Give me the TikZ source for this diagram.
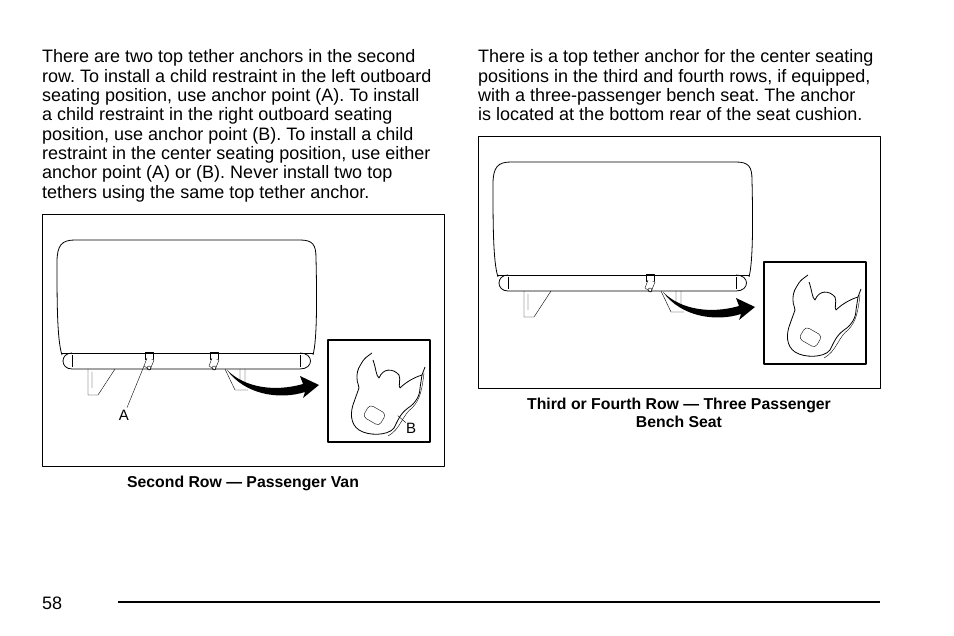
\documentclass[tikz,border=0pt]{standalone}
\usepackage{fontspec}
\setmainfont{Liberation Sans}
\frenchspacing
\begin{document}
\begin{tikzpicture}[x=1pt,y=-1pt,line join=round]
\tikzstyle{body}=[anchor=base west,inner sep=0pt,font=\fontsize{18}{20}\selectfont]
\tikzstyle{capt}=[anchor=base,inner sep=0pt,font=\fontsize{15.8}{18}\selectfont\bfseries]
\tikzstyle{lab}=[inner sep=0pt,font=\fontsize{15}{17}\selectfont]
\tikzstyle{frame}=[draw,line width=1pt]
\useasboundingbox (0,0) rectangle (954,636);
% left column text
\foreach \t [count=\i] in {There are two top tether anchors in the second,
  row. To install a child restraint in the left outboard,
  seating position{,} use anchor point (A). To install,
  a child restraint in the right outboard seating,
  position{,} use anchor point (B). To install a child,
  restraint in the center seating position{,} use either,
  anchor point (A) or (B). Never install two top,
  tethers using the same top tether anchor.}
  \node[body] (l\i) at (42,{63+19.3*(\i-1)}) {\t};
% right column text
\foreach \t [count=\i] in {There is a top tether anchor for the center seating,
  positions in the third and fourth rows{,} if equipped{,},
  with a three-passenger bench seat. The anchor,
  is located at the bottom rear of the seat cushion.}
  \node[body] (r\i) at (478,{63+19.3*(\i-1)}) {\t};
% seat picture (shifted copy for both frames)
\newcommand{\seatpic}[2]{%
\begin{scope}[shift={(#1,#2)}]
\draw[thick] (62,355) .. controls (57,340) and (57,300) .. (57,262)
  .. controls (57,245) and (62,240) .. (75,240) -- (300,240)
  .. controls (313,240) and (316,245) .. (316,258) .. controls (317,300) and (317,340) .. (313,355);
\draw (62,353) -- (313,353);
\draw[thick] (72,353) .. controls (60,353) and (60,369) .. (72,369) -- (300,369)
  .. controls (314,369) and (314,353) .. (300,353);
\draw (72,355) -- (72,367) (300,355) -- (300,367);
\draw (88,369) -- (88,395) -- (98,395) -- (115,369) (92,372) -- (92,388);
\draw (225,369) -- (235,390) -- (248,390) (240,369) -- (240,382) (245,369) -- (245,382);
\fill (227,370) .. controls (245,395) and (280,400) .. (305,392) -- (303,398) -- (319,385)
  -- (300,376) -- (303,384) .. controls (275,392) and (245,388) .. (227,370);
\draw[line width=1.5pt] (328,340) rectangle (430,442);
\begin{scope}[shift={(328,340)}]
\draw[thick] (44,13) .. controls (40,16) and (36,18) .. (33,24) .. controls (29,30) and (29,34) .. (29,38)
  .. controls (29,44) and (31,44) .. (31,48) -- (26,62)
  .. controls (22,72) and (22,84) .. (31,90) .. controls (40,96) and (60,96) .. (66,88)
  .. controls (70,80) and (72,74) .. (80,68) .. controls (88,63) and (92,55) .. (92,48) -- (94,35) -- (97,27);
\draw[thick] (45,20) .. controls (48,28) and (48,36) .. (51,38) .. controls (55,28) and (65,28) .. (71,35)
  .. controls (73,40) and (70,46) .. (72,48) .. controls (76,44) and (84,38) .. (94,35);
\draw (96,33) .. controls (94,50) and (92,60) .. (84,68) .. controls (75,74) and (72,90) .. (60,96);
\draw[rotate around={-30:(46,75)},rounded corners=4pt] (37,68) rectangle (56,82);
\end{scope}
\end{scope}}
% left figure
\draw[frame] (42,215) rectangle (444,467);
\seatpic{0}{0}
\foreach \x/\n in {149/ancA,214/ancB}{
  \draw (\x-4,352) rectangle (\x+4,359);
  \draw[fill=white] (\x-2,358) -- (\x-5,366) -- (\x+1,370) -- (\x+5,360);
  \draw (\x,368) circle (2);
  \coordinate (\n) at (\x-5,366);}
\node[lab] (labA) at (124,415) {A};
\draw (labA.north) ++(3,-2) coordinate (a0) -- (ancA);
\node[lab] (labB) at (411,428) {B};
\draw (labB.north west) -- ++(-8,-7);
\node[capt] (c1) at (243,487) {Second Row — Passenger Van};
% right figure
\draw[frame] (478,137) rectangle (880,389);
\seatpic{436}{-78}
\draw (646,274) rectangle (654,281);
\draw[fill=white] (648,280) -- (645,288) -- (651,292) -- (655,282);
\draw (650,290) circle (2);
\node[capt] (c2) at (679,410) {Third or Fourth Row — Three Passenger};
\node[capt] (c3) at (679,428) {Bench Seat};
% footer
\node[body] (pg) at (42,609) {58};
\draw[line width=2.5pt] (118,602) -- (880,602);
\end{tikzpicture}
\end{document}
